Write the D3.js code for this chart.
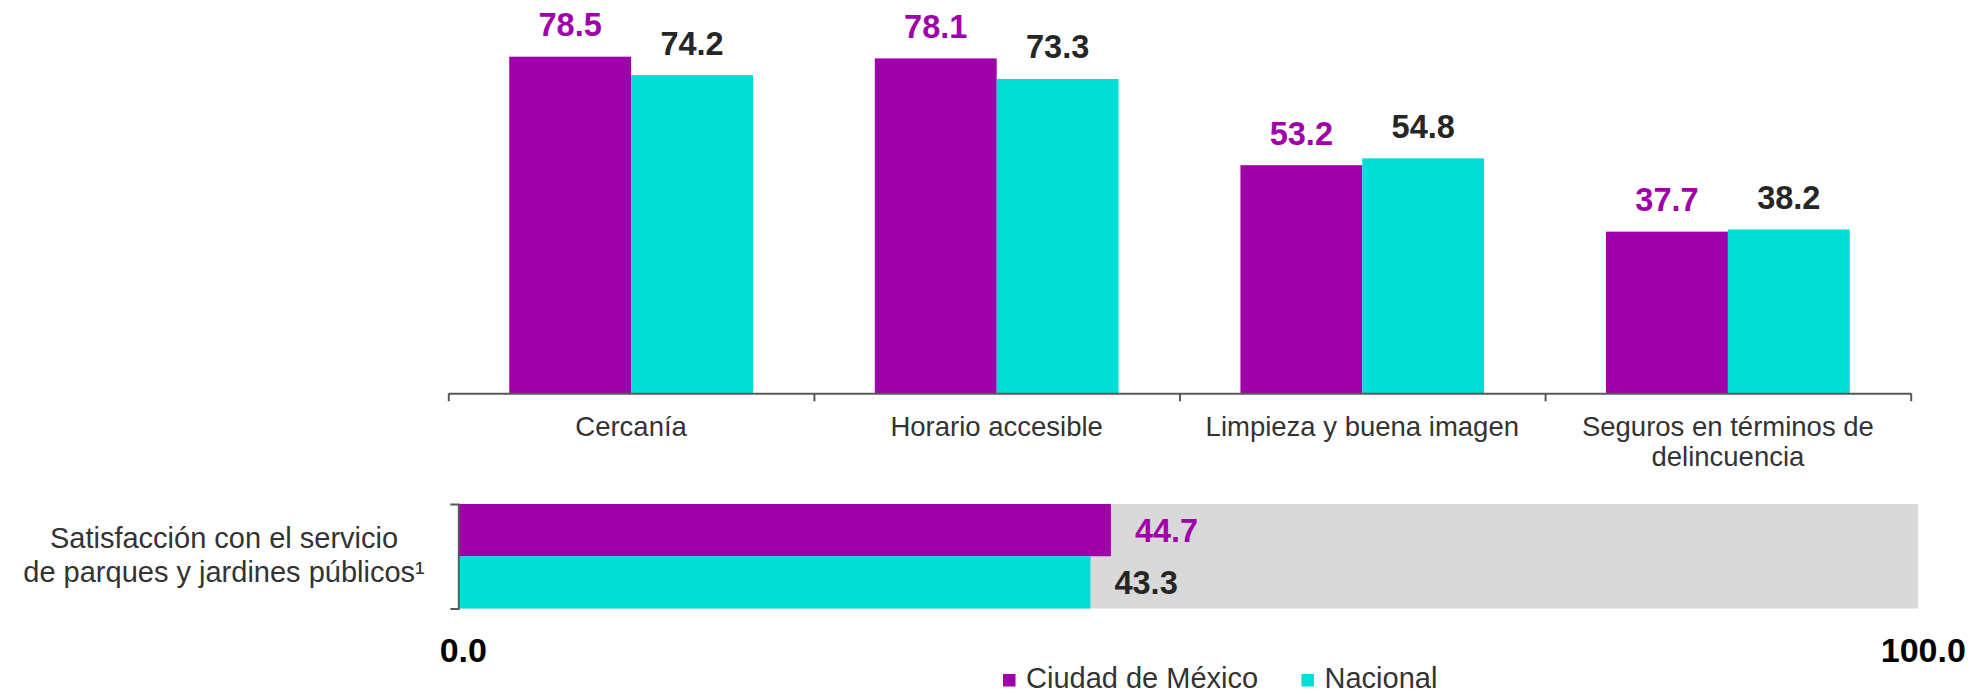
<!DOCTYPE html>
<html>
<head>
<meta charset="utf-8">
<script src="https://cdn.jsdelivr.net/npm/d3@7"></script>
<style>
  html, body { margin: 0; padding: 0; background: #ffffff; }
  svg { display: block; font-family: "Liberation Sans", Arial, Helvetica, sans-serif; }
</style>
</head>
<body>
<svg id="chart" width="1977" height="694"></svg>
<script>
// ---------- data ----------
const categories = ["Cercanía", "Horario accesible", "Limpieza y buena imagen", "Seguros en términos de delincuencia"];
const categoryLines = [["Cercanía"], ["Horario accesible"], ["Limpieza y buena imagen"], ["Seguros en términos de", "delincuencia"]];
const seriesNames = ["Ciudad de México", "Nacional"];
const cdmxValues = [78.5, 78.1, 53.2, 37.7];
const nacionalValues = [74.2, 73.3, 54.8, 38.2];

const satisfLines = ["Satisfacción con el servicio", "de parques y jardines públicos¹"];
const satisfValues = [44.7, 43.3];   // Ciudad de México, Nacional
const satisfMax = 100;
const satisfTicks = [0, 100];

// ---------- style ----------
const colors = { "Ciudad de México": "#A000AA", "Nacional": "#00DED8" };
const labelColors = { "Ciudad de México": "#A000AA", "Nacional": "#262626" };
const axisColor = "#595959";
const textColor = "#333333";

const svg = d3.select("#chart");

// ---------- top grouped bar chart ----------
const area = { left: 448.3, right: 1910.7, base: 393.3, top100: -35.5 };
const x0 = d3.scaleBand().domain(categories).range([area.left, area.right]).padding(0);
const x1 = d3.scaleBand().domain(seriesNames).range([0, x0.bandwidth()]).paddingInner(0).paddingOuter(0.5);
const y = d3.scaleLinear().domain([0, 100]).range([area.base, area.top100]);

const rows = categories.map((c, i) => ({ cat: c, vals: [
  { s: seriesNames[0], v: cdmxValues[i] },
  { s: seriesNames[1], v: nacionalValues[i] }
]}));

const groups = svg.append("g").selectAll("g").data(rows).join("g")
  .attr("transform", d => `translate(${x0(d.cat)},0)`);

groups.selectAll("rect").data(d => d.vals).join("rect")
  .attr("x", d => x1(d.s))
  .attr("width", x1.bandwidth())
  .attr("y", d => y(d.v))
  .attr("height", d => y(0) - y(d.v))
  .attr("fill", d => colors[d.s]);

groups.selectAll("text.val").data(d => d.vals).join("text")
  .attr("class", "val")
  .attr("x", d => x1(d.s) + x1.bandwidth() / 2)
  .attr("y", d => y(d.v) - 20.5)
  .attr("text-anchor", "middle")
  .attr("font-size", 32.5)
  .attr("font-weight", "bold")
  .attr("fill", d => labelColors[d.s])
  .text(d => d.v.toFixed(1));

// category axis with ticks at band boundaries
const boundary = d3.scaleLinear().domain([0, categories.length]).range([area.left, area.right]);
const catAxis = svg.append("g")
  .attr("transform", `translate(0,${area.base})`)
  .call(d3.axisBottom(boundary).tickValues(d3.range(categories.length + 1)).tickFormat("").tickSize(8).tickSizeOuter(0));
catAxis.select(".domain").attr("stroke", axisColor).attr("stroke-width", 2);
catAxis.selectAll(".tick line").attr("stroke", axisColor).attr("stroke-width", 2);

const catLabels = svg.append("g").selectAll("text").data(categories).join("text")
  .attr("x", d => x0(d) + x0.bandwidth() / 2)
  .attr("y", 436)
  .attr("text-anchor", "middle")
  .attr("font-size", 27.5)
  .attr("fill", textColor);
catLabels.each(function(d, i) {
  d3.select(this).selectAll("tspan").data(categoryLines[i]).join("tspan")
    .attr("x", x0(d) + x0.bandwidth() / 2)
    .attr("dy", (t, j) => j === 0 ? 0 : 30)
    .text(t => t);
});

// ---------- bottom horizontal bar chart ----------
const hx = d3.scaleLinear().domain([0, satisfMax]).range([458.3, 1918.3]);
const hy = d3.scaleBand().domain(seriesNames).range([504, 608.5]).padding(0);

svg.append("rect")
  .attr("x", hx(0)).attr("width", hx(satisfMax) - hx(0))
  .attr("y", hy.range()[0]).attr("height", hy.range()[1] - hy.range()[0])
  .attr("fill", "#D9D9D9");

const hData = seriesNames.map((s, i) => ({ s, v: satisfValues[i] }));
svg.append("g").selectAll("rect").data(hData).join("rect")
  .attr("x", hx(0))
  .attr("width", d => hx(d.v) - hx(0))
  .attr("y", d => hy(d.s))
  .attr("height", hy.bandwidth())
  .attr("fill", d => colors[d.s]);

svg.append("g").selectAll("text").data(hData).join("text")
  .attr("x", d => hx(d.v) + 24)
  .attr("y", d => hy(d.s) + hy.bandwidth() / 2 + 11.5)
  .attr("font-size", 32.5)
  .attr("font-weight", "bold")
  .attr("fill", d => labelColors[d.s])
  .text(d => d.v.toFixed(1));

// left bracket axis
const leftAxis = svg.append("g")
  .attr("transform", `translate(${hx(0)},0)`)
  .call(d3.axisLeft(hy).tickValues([]).tickSizeOuter(8));
leftAxis.select(".domain").attr("stroke", axisColor).attr("stroke-width", 2);

// category label
svg.append("text")
  .attr("text-anchor", "middle")
  .attr("font-size", 29)
  .attr("fill", textColor)
  .selectAll("tspan").data(satisfLines).join("tspan")
  .attr("x", 224)
  .attr("y", (d, i) => 548 + i * 34)
  .text(d => d);

// bottom axis tick labels 0.0 / 100.0
svg.append("g").selectAll("text").data(satisfTicks).join("text")
  .attr("x", d => hx(d) + 5)
  .attr("y", 661.7)
  .attr("text-anchor", "middle")
  .attr("font-size", 34)
  .attr("font-weight", "bold")
  .attr("fill", "#000000")
  .text(d => d.toFixed(1));

// ---------- legend ----------
const legendX = d3.scaleOrdinal().domain(seriesNames).range([1003, 1301.5]);
const legend = svg.append("g").selectAll("g").data(seriesNames).join("g")
  .attr("transform", d => `translate(${legendX(d)},674)`);
legend.append("rect").attr("width", 12.5).attr("height", 12.5).attr("fill", d => colors[d]);
legend.append("text")
  .attr("x", 23).attr("y", 13.5)
  .attr("font-size", 29)
  .attr("fill", textColor)
  .text(d => d);
</script>
</body>
</html>
